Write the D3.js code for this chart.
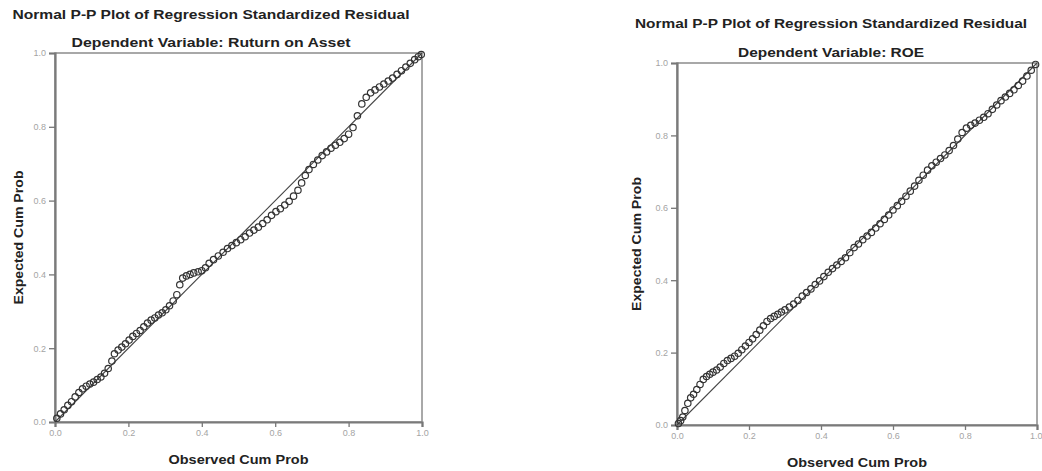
<!DOCTYPE html>
<html>
<head>
<meta charset="utf-8">
<script src="https://cdn.jsdelivr.net/npm/d3@7/dist/d3.min.js"></script>
<style>
  body { margin: 0; background: #fff; }
  svg { display: block; font-family: "Liberation Sans", Arial, sans-serif; }
  .title { font-weight: bold; fill: #222; }
  .tick text { fill: #a4a4a4; font-size: 9px; }
  .tick line { stroke: #777; }
</style>
</head>
<body>
<svg id="chart" width="1042" height="471"></svg>
<script>
// ── Data ──────────────────────────────────────────────────────────────────────
const tickValues = [0, 0.2, 0.4, 0.6, 0.8, 1.0];

const roaObserved = [
  0.005, 0.015, 0.025, 0.035, 0.045, 0.055, 0.065, 0.075, 0.085, 0.095,
  0.105, 0.115, 0.125, 0.135, 0.145, 0.155, 0.162, 0.172, 0.182, 0.192,
  0.202, 0.212, 0.222, 0.232, 0.242, 0.252, 0.262, 0.272, 0.282, 0.292,
  0.302, 0.312, 0.322, 0.332, 0.340, 0.348, 0.358, 0.368, 0.378, 0.390,
  0.400, 0.410, 0.420, 0.432, 0.445, 0.458, 0.470, 0.482, 0.494, 0.506,
  0.518, 0.530, 0.542, 0.554, 0.566, 0.578, 0.590, 0.602, 0.614, 0.626,
  0.638, 0.650, 0.662, 0.672, 0.682, 0.692, 0.704, 0.716, 0.728, 0.740,
  0.752, 0.764, 0.776, 0.788, 0.800, 0.812, 0.824, 0.836, 0.848, 0.860,
  0.872, 0.884, 0.896, 0.908, 0.920, 0.932, 0.944, 0.956, 0.968, 0.980,
  0.990, 0.998
];
const roaExpected = [
  0.010, 0.022, 0.033, 0.045, 0.055, 0.068, 0.080, 0.090, 0.097, 0.103,
  0.108, 0.115, 0.122, 0.132, 0.145, 0.165, 0.185, 0.195, 0.203, 0.212,
  0.222, 0.232, 0.240, 0.248, 0.258, 0.268, 0.276, 0.282, 0.290, 0.296,
  0.304, 0.315, 0.328, 0.345, 0.372, 0.390, 0.396, 0.400, 0.404, 0.407,
  0.410, 0.418, 0.430, 0.440, 0.450, 0.460, 0.470, 0.478, 0.486, 0.494,
  0.502, 0.512, 0.520, 0.528, 0.538, 0.548, 0.560, 0.570, 0.578, 0.588,
  0.598, 0.612, 0.628, 0.648, 0.668, 0.684, 0.698, 0.710, 0.722, 0.732,
  0.742, 0.750, 0.758, 0.768, 0.780, 0.798, 0.830, 0.862, 0.880, 0.892,
  0.900, 0.908, 0.916, 0.924, 0.932, 0.942, 0.952, 0.962, 0.972, 0.982,
  0.990, 0.996
];

const roeObserved = [
  0.004, 0.010, 0.016, 0.022, 0.030, 0.038, 0.046, 0.055, 0.064, 0.073,
  0.082, 0.091, 0.100, 0.110, 0.120, 0.130, 0.140, 0.150, 0.160, 0.170,
  0.180, 0.190, 0.200, 0.210, 0.220, 0.230, 0.240, 0.250, 0.260, 0.270,
  0.280, 0.290, 0.300, 0.312, 0.324, 0.336, 0.348, 0.360, 0.372, 0.384,
  0.396, 0.408, 0.420, 0.432, 0.444, 0.456, 0.468, 0.480, 0.492, 0.504,
  0.516, 0.528, 0.540, 0.552, 0.564, 0.576, 0.588, 0.600, 0.612, 0.624,
  0.636, 0.648, 0.660, 0.672, 0.684, 0.696, 0.708, 0.720, 0.732, 0.744,
  0.756, 0.768, 0.780, 0.792, 0.804, 0.816, 0.828, 0.840, 0.852, 0.864,
  0.876, 0.888, 0.900, 0.912, 0.924, 0.936, 0.948, 0.960, 0.972, 0.984,
  0.996
];
const roeExpected = [
  0.004, 0.012, 0.022, 0.040, 0.060, 0.075, 0.085, 0.098, 0.112, 0.126,
  0.134, 0.140, 0.146, 0.152, 0.160, 0.170, 0.178, 0.184, 0.190, 0.198,
  0.208, 0.218, 0.228, 0.238, 0.250, 0.262, 0.274, 0.286, 0.294, 0.300,
  0.306, 0.312, 0.318, 0.326, 0.334, 0.344, 0.356, 0.366, 0.376, 0.388,
  0.398, 0.410, 0.422, 0.432, 0.442, 0.452, 0.462, 0.476, 0.490, 0.500,
  0.512, 0.522, 0.532, 0.544, 0.556, 0.568, 0.580, 0.594, 0.606, 0.618,
  0.632, 0.646, 0.660, 0.676, 0.690, 0.704, 0.716, 0.726, 0.736, 0.746,
  0.758, 0.772, 0.790, 0.808, 0.820, 0.828, 0.834, 0.842, 0.850, 0.860,
  0.872, 0.884, 0.896, 0.906, 0.916, 0.926, 0.938, 0.950, 0.964, 0.980,
  0.996
];

// ── Panels ────────────────────────────────────────────────────────────────────
const panels = [
  {
    title: "Normal P-P Plot of Regression Standardized Residual",
    subtitle: "Dependent Variable: Ruturn on Asset",
    titleX: 211, titleY: 19, titleW: 397,
    subY: 47, subW: 279,
    left: 55, right: 422, top: 53, bottom: 422,
    yLabelX: 18, xLabelY: 464,
    observed: roaObserved, expected: roaExpected
  },
  {
    title: "Normal P-P Plot of Regression Standardized Residual",
    subtitle: "Dependent Variable: ROE",
    titleX: 831, titleY: 28, titleW: 392,
    subY: 57, subW: 186,
    left: 677, right: 1037, top: 63, bottom: 425,
    yLabelX: 636, xLabelY: 467,
    observed: roeObserved, expected: roeExpected
  }
];

const svg = d3.select("#chart");
const svgWidth = +svg.attr("width");

function drawPanel(p) {
  const g = svg.append("g");
  const x = d3.scaleLinear().domain([0, 1]).range([p.left, p.right]);
  const y = d3.scaleLinear().domain([0, 1]).range([p.bottom, p.top]);

  g.append("text").attr("class", "title")
    .attr("x", p.titleX).attr("y", p.titleY)
    .attr("text-anchor", "middle").attr("font-size", 13.5)
    .attr("textLength", p.titleW).attr("lengthAdjust", "spacingAndGlyphs")
    .text(p.title);

  g.append("text").attr("class", "title")
    .attr("x", p.titleX).attr("y", p.subY)
    .attr("text-anchor", "middle").attr("font-size", 13.5)
    .attr("textLength", p.subW).attr("lengthAdjust", "spacingAndGlyphs")
    .text(p.subtitle);

  // frame
  g.append("rect")
    .attr("x", p.left).attr("y", p.top)
    .attr("width", p.right - p.left).attr("height", p.bottom - p.top)
    .attr("fill", "none").attr("stroke", "#8c8c8c").attr("stroke-width", 1.5);

  // axes
  const yAxis = g.append("g")
    .attr("transform", `translate(${p.left},0)`)
    .call(d3.axisLeft(y).tickValues(tickValues).tickFormat(d3.format(".1f")).tickSize(6).tickPadding(3));
  const xAxis = g.append("g")
    .attr("transform", `translate(0,${p.bottom})`)
    .call(d3.axisBottom(x).tickValues(tickValues).tickFormat(d3.format(".1f")).tickSize(5).tickPadding(3));
  [yAxis, xAxis].forEach((a) => {
    a.select(".domain").attr("stroke", "#7a7a7a").attr("stroke-width", 2.2);
    a.selectAll(".tick line").attr("stroke-width", 1.3);
  });
  // keep the last x label inside the page edge
  if (p.right + 8 > svgWidth) {
    xAxis.selectAll(".tick text").filter((d) => d === 1).attr("text-anchor", "end").attr("dx", "5");
  }

  // reference line
  g.append("line")
    .attr("x1", x(0)).attr("y1", y(0))
    .attr("x2", x(1)).attr("y2", y(1))
    .attr("stroke", "#444").attr("stroke-width", 1.1);

  // points
  const pts = p.observed.map((o, i) => ({ o, e: p.expected[i] }));
  g.append("g").selectAll("circle")
    .data(pts)
    .join("circle")
    .attr("cx", (d) => x(d.o))
    .attr("cy", (d) => y(d.e))
    .attr("r", 3.2)
    .attr("fill", "none")
    .attr("stroke", "#333")
    .attr("stroke-width", 1.2);

  g.append("text").attr("class", "title")
    .attr("x", (p.left + p.right) / 2).attr("y", p.xLabelY)
    .attr("text-anchor", "middle").attr("font-size", 13)
    .attr("textLength", 140).attr("lengthAdjust", "spacingAndGlyphs")
    .text("Observed Cum Prob");

  const cy = (p.top + p.bottom) / 2;
  g.append("text").attr("class", "title")
    .attr("transform", `translate(${p.yLabelX},${cy}) rotate(-90)`)
    .attr("dy", "0.35em")
    .attr("text-anchor", "middle").attr("font-size", 13)
    .attr("textLength", 134).attr("lengthAdjust", "spacingAndGlyphs")
    .text("Expected Cum Prob");
}

panels.forEach(drawPanel);
</script>
</body>
</html>
